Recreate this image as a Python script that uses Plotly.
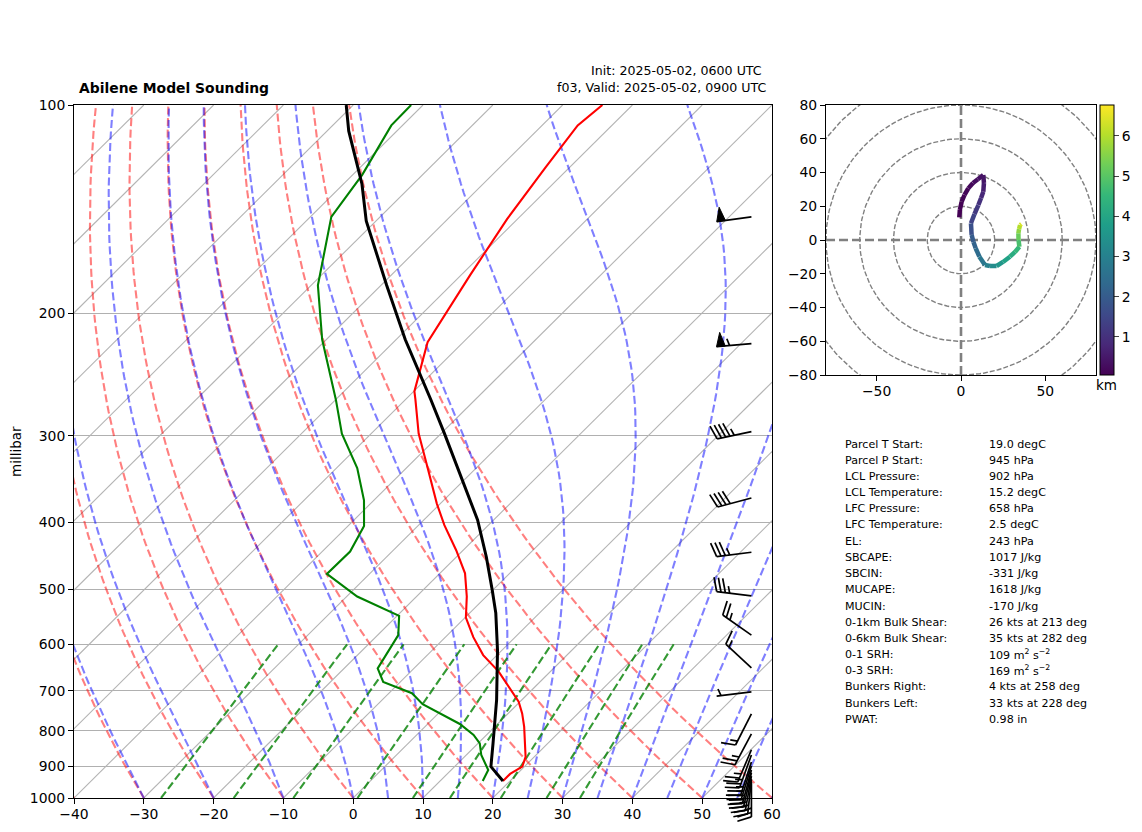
import numpy as np
import plotly.graph_objects as go
from plotly.colors import sample_colorscale

W, H = 1142, 832
# skew-T box in pixels
L, R, T_, B = 74, 772, 105, 798
# isotherms: degC of x axis per decade of pressure
SKEW = 100.0

# sounding
temp_p = [945, 923, 901, 872, 789, 755, 726, 657, 622, 586, 549, 512, 474, 439, 404, 376, 331, 298, 266, 259, 220, 176, 146, 123, 107, 100]
temp_t = [19.0, 19.0, 19.7, 18.75, 14.2, 12.0, 9.8, 2.6, -2.0, -6.0, -9.9, -12.8, -16.4, -21.0, -26.3, -30.5, -37.45, -43.2, -48.6, -49.9, -55.1, -58.7, -61.5, -63.45, -64.9, -64.3]

dew_p = [945, 911, 867, 834, 811, 782, 732, 706, 680, 650, 582, 546, 512, 475, 441, 405, 372, 334, 298, 266, 218, 182, 145, 126, 107, 100]
dew_t = [16.1, 15.3, 12.15, 10.25, 8.15, 4.6, -3.6, -6.7, -12.45, -15.2, -17.05, -19.7, -28.5, -36.1, -36.0, -37.7, -41.4, -47.05, -54.2, -60.0, -70.6, -79.05, -87.0, -88.65, -91.6, -91.7]

parcel_p = [945, 901, 834, 722, 612, 541, 501, 449, 397, 348, 322, 298, 266, 218, 182, 147, 130, 109, 100]
parcel_t = [19.0, 15.2, 12.15, 6.4, -0.65, -6.25, -10.1, -15.7, -22.3, -30.15, -34.85, -39.5, -46.4, -58.7, -69.2, -81.4, -87.35, -96.9, -101]

# wind barbs: pressure, speed (kts), direction (deg)
winds = [
    (145, 50, 262), (221, 55, 265), (296, 45, 258), (369, 40, 255), (442, 35, 263),
    (511, 35, 277), (582, 25, 305), (649, 15, 313), (703, 5, 263), (756, 15, 207),
    (808, 25, 208), (852, 25, 203), (867, 25, 200), (887, 25, 198), (899, 25, 197),
    (911, 25, 195), (920, 25, 193), (930, 25, 190), (939, 25, 186), (948, 25, 180),
]

# hodograph, u v (kts) and height (km)
hodo_u = [-1, -0.7, 0.4, 2.1, 4.3, 7.1, 10, 13.2, 13.6, 13.2, 11.9, 10.3, 8, 5.9, 6.3, 7.4, 8.7, 10.9, 14.2, 17.2, 21.1, 24.9, 29, 32, 34.6, 34.1, 34, 34.4, 35, 35.8]
hodo_v = [13.4, 17.8, 22.7, 26.7, 30.6, 33.8, 36, 38.5, 33.8, 28.6, 24.9, 20.7, 15.4, 9.9, 3, -1.2, -4.9, -9.9, -14.8, -15.4, -15.4, -13, -9.9, -7.1, -4, 0, 4, 6.5, 8.9, 9.5]
hodo_z = [0.05, 0.08, 0.12, 0.16, 0.2, 0.28, 0.36, 0.45, 0.6, 0.8, 1.0, 1.2, 1.4, 1.7, 2.0, 2.2, 2.4, 2.7, 3.0, 3.3, 3.6, 3.9, 4.2, 4.5, 4.8, 5.2, 5.6, 6.0, 6.4, 6.77]
ZMIN, ZMAX = 0.05, 6.77

table = [
    ("Parcel T Start:", "19.0 degC"), ("Parcel P Start:", "945 hPa"), ("LCL Pressure:", "902 hPa"),
    ("LCL Temperature:", "15.2 degC"), ("LFC Pressure:", "658 hPa"), ("LFC Temperature:", "2.5 degC"),
    ("EL:", "243 hPa"), ("SBCAPE:", "1017 J/kg"), ("SBCIN:", "-331 J/kg"), ("MUCAPE:", "1618 J/kg"),
    ("MUCIN:", "-170 J/kg"), ("0-1km Bulk Shear:", "26 kts at 213 deg"), ("0-6km Bulk Shear:", "35 kts at 282 deg"),
    ("0-1 SRH:", "109 m<sup>2</sup> s<sup>\u22122</sup>"), ("0-3 SRH:", "169 m<sup>2</sup> s<sup>\u22122</sup>"),
    ("Bunkers Right:", "4 kts at 258 deg"), ("Bunkers Left:", "33 kts at 228 deg"), ("PWAT:", "0.98 in"),
]
table_y = [444, 460, 476, 492, 508, 524, 541, 557, 573, 589, 606, 622, 638, 654, 670, 686, 703, 719]

FONT = "DejaVu Sans"


def skew(t, p):
    return np.asarray(t, dtype=float) + SKEW * np.log10(1000.0 / np.asarray(p, dtype=float))


def moist_profile(t0, pres):
    # integrate the saturated lapse rate up from 1000 hPa
    out = []
    t = t0 + 273.15
    lp = np.log(1000.0)
    for p in pres:
        target = np.log(p)
        n = max(1, int(abs(target - lp) / 0.005))
        h = (target - lp) / n
        for _ in range(n):
            es = 6.112 * np.exp(17.67 * (t - 273.15) / (t - 29.65))
            pp = np.exp(lp)
            rs = 0.62196 * es / (pp - es) if pp > es else 0
            dt = (287.04 * t + 2.501e6 * rs) / (1005.7 + 2.501e6 ** 2 * rs * 0.62196 / (287.04 * t ** 2))
            t += dt * h
            lp += h
        out.append(t - 273.15)
    return np.array(out)


fig = go.Figure()
pres = np.logspace(3, 2, 80)

# isotherms
for t in range(-140, 61, 10):
    fig.add_trace(go.Scatter(x=skew([t, t], [1000, 100]), y=[1000, 100], mode="lines",
                             line=dict(color="#b4b4b4", width=1.1), hoverinfo="skip", showlegend=False))

# dry adiabats
for t0 in range(-40, 61, 10):
    tt = (t0 + 273.15) * (pres / 1000.0) ** 0.2857 - 273.15
    fig.add_trace(go.Scatter(x=skew(tt, pres), y=pres, mode="lines",
                             line=dict(color="rgba(255,0,0,0.5)", width=2.1, dash="8px,3.5px"), showlegend=False))

# moist adiabats
for t0 in list(range(-30, 0, 10)) + list(range(0, 65, 5)):
    tt = moist_profile(t0, pres)
    fig.add_trace(go.Scatter(x=skew(tt, pres), y=pres, mode="lines",
                             line=dict(color="rgba(0,0,255,0.5)", width=2.1, dash="8px,3.5px"), showlegend=False))

# mixing ratio lines
pmix = np.linspace(1000, 600, 12)
for w in [0.0004, 0.001, 0.002, 0.004, 0.007, 0.01, 0.016, 0.024, 0.032]:
    e = w * pmix / (0.62196 + w)
    v = np.log(e / 6.112)
    td = 243.5 * v / (17.67 - v)
    fig.add_trace(go.Scatter(x=skew(td, pmix), y=pmix, mode="lines",
                             line=dict(color="rgba(0,128,0,0.8)", width=2.1, dash="8px,3.5px"), showlegend=False))

fig.add_trace(go.Scatter(x=skew(temp_t, temp_p), y=temp_p, mode="lines", line=dict(color="red", width=2.1), showlegend=False))
fig.add_trace(go.Scatter(x=skew(dew_t, dew_p), y=dew_p, mode="lines", line=dict(color="green", width=2.1), showlegend=False))
fig.add_trace(go.Scatter(x=skew(parcel_t, parcel_p), y=parcel_p, mode="lines", line=dict(color="black", width=3), showlegend=False))

# hodograph grid
ang = np.linspace(0, 2 * np.pi, 181)
for r in range(20, 101, 20):
    fig.add_trace(go.Scatter(x=r * np.cos(ang), y=r * np.sin(ang), xaxis="x2", yaxis="y2", mode="lines",
                             line=dict(color="#808080", width=1.4, dash="5px,2px"), showlegend=False))
for xx, yy in [([-80, 80], [0, 0]), ([0, 0], [-80, 80])]:
    fig.add_trace(go.Scatter(x=xx, y=yy, xaxis="x2", yaxis="y2", mode="lines",
                             line=dict(color="#808080", width=2.6, dash="9px,4px"), showlegend=False))

# hodograph trace, one piece per colour
for i in range(len(hodo_u) - 1):
    c = sample_colorscale("Viridis", (hodo_z[i] - ZMIN) / (ZMAX - ZMIN))[0]
    fig.add_trace(go.Scatter(x=hodo_u[i:i + 2], y=hodo_v[i:i + 2], xaxis="x2", yaxis="y2", mode="lines",
                             line=dict(color=c, width=4.5), showlegend=False))
fig.add_trace(go.Scatter(x=[hodo_u[0]], y=[hodo_v[0]], xaxis="x2", yaxis="y2", mode="markers", showlegend=False,
                         marker=dict(size=0.1, color=[hodo_z[0]], colorscale="Viridis", cmin=ZMIN, cmax=ZMAX, showscale=True,
                                     colorbar=dict(x=1100 / W, xanchor="left", xpad=0, y=1 - 375 / H, yanchor="bottom", ypad=0,
                                                   len=270 / H, lenmode="fraction", thickness=14, thicknessmode="pixels",
                                                   tickvals=[1, 2, 3, 4, 5, 6], ticks="outside", ticklen=5, tickwidth=1,
                                                   outlinecolor="black", outlinewidth=1,
                                                   tickfont=dict(family=FONT, size=13.9, color="black")))))

# wind barbs, worked out in pixels on an overlay axis
SL = 35.0
BH, BS, BW = 0.4 * SL, 0.125 * SL, 0.25 * SL
bx, by, fx, fy = [], [], [], []
for p, spd, d in winds:
    tip = np.array([L + 0.9705 * (R - L), B - (B - T_) * np.log10(1000.0 / p)])
    rad = np.radians(d)
    # staff points to where the wind comes from, y down in pixels
    u = np.array([np.sin(rad), -np.cos(rad)])
    n = np.array([-u[1], u[0]])
    end = tip + u * SL
    bx += [tip[0], end[0], None]
    by += [tip[1], end[1], None]
    s = int(round(spd / 5.0) * 5)
    off = 0.0
    flags = s // 50
    s -= flags * 50
    for _ in range(flags):
        a = end - u * off
        c = a - u * BW
        apex = a - u * (BW / 2) + n * BH
        fx += [a[0], apex[0], c[0], a[0], None]
        fy += [a[1], apex[1], c[1], a[1], None]
        off += BW + BS
    full = s // 10
    half = (s - full * 10) // 5
    for _ in range(full):
        a = end - u * off
        b = a + n * BH + u * (BW / 2)
        bx += [a[0], b[0], None]
        by += [a[1], b[1], None]
        off += BS
    if half:
        if flags == 0 and full == 0:
            off += BS
        a = end - u * off
        b = a + n * (BH / 2) + u * (BW / 4)
        bx += [a[0], b[0], None]
        by += [a[1], b[1], None]

fig.add_trace(go.Scatter(x=bx, y=by, xaxis="x3", yaxis="y3", mode="lines", line=dict(color="black", width=1.7), showlegend=False))
fig.add_trace(go.Scatter(x=fx, y=fy, xaxis="x3", yaxis="y3", mode="lines", fill="toself", fillcolor="black",
                         line=dict(color="black", width=1), showlegend=False))

notes = [
    dict(x=77 / W, y=1 - 88 / H, text="<b>Abilene Model Sounding</b>", xanchor="left", font=dict(size=13.9)),
    dict(x=764 / W, y=1 - 70 / H, text="Init: 2025-05-02, 0600 UTC", xanchor="right", font=dict(size=12.6)),
    dict(x=768 / W, y=1 - 88 / H, text="f03, Valid: 2025-05-02, 0900 UTC", xanchor="right", font=dict(size=12.6)),
    dict(x=16 / W, y=1 - 452 / H, text="millibar", xanchor="center", textangle=-90, font=dict(size=13.5)),
    dict(x=1106 / W, y=1 - 385 / H, text="km", xanchor="center", font=dict(size=13.5)),
]
for (a, b), yy in zip(table, table_y):
    notes.append(dict(x=843 / W, y=1 - yy / H, text=a, xanchor="left", font=dict(size=11.1)))
    notes.append(dict(x=987 / W, y=1 - yy / H, text=b, xanchor="left", font=dict(size=11.1)))
for n_ in notes:
    n_.update(xref="paper", yref="paper", yanchor="middle", showarrow=False, align="left")
    n_["font"].update(family=FONT, color="black")

axis_style = dict(showline=True, linecolor="black", linewidth=1, mirror=True, ticks="outside", ticklen=5, tickwidth=1,
                  tickcolor="black", zeroline=False, tickfont=dict(family=FONT, size=13.9, color="black"))

fig.update_layout(
    width=W, height=H, autosize=False, margin=dict(l=0, r=0, t=0, b=0, autoexpand=False),
    paper_bgcolor="white", plot_bgcolor="rgba(0,0,0,0)", showlegend=False, annotations=notes,
    xaxis=dict(domain=[L / W, R / W], range=[-40, 60], tickmode="array", tickvals=list(range(-40, 61, 10)), showgrid=False,
               ticklabelstandoff=-2, **axis_style),
    yaxis=dict(domain=[1 - B / H, 1 - T_ / H], type="log", range=[3, 2], tickmode="array", tickvals=list(range(100, 1001, 100)),
               ticktext=[str(v) for v in range(100, 1001, 100)], showgrid=True, gridcolor="#b0b0b0", gridwidth=1.1, **axis_style),
    xaxis2=dict(domain=[826 / W, 1096 / W], range=[-80, 80], anchor="y2", tickmode="array", tickvals=[-50, 0, 50], showgrid=False,
                ticklabelstandoff=-2, **axis_style),
    yaxis2=dict(domain=[1 - 375 / H, 1 - 105 / H], range=[-80, 80], anchor="x2", tickmode="array", tickvals=list(range(-80, 81, 20)), showgrid=False, **axis_style),
    xaxis3=dict(domain=[0, 1], range=[0, W], anchor="y3", visible=False),
    yaxis3=dict(domain=[0, 1], range=[H, 0], anchor="x3", visible=False),
)

fig.write_html("out.html", config={"displayModeBar": False}, post_script="document.body.style.margin='0';")
